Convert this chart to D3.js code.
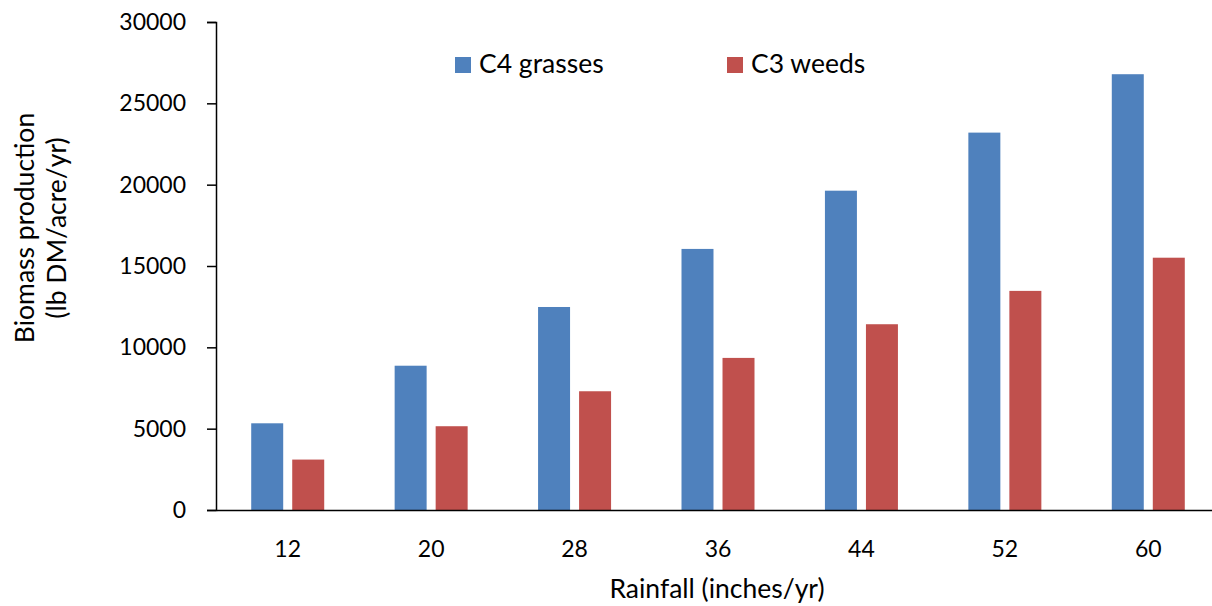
<!DOCTYPE html>
<html>
<head>
<meta charset="utf-8">
<script src="https://cdn.jsdelivr.net/npm/d3@7/dist/d3.min.js"></script>
<style>
  html, body { margin: 0; padding: 0; background: #fff; }
  svg { display: block; }
  text { font-family: Lato, "Open Sans", sans-serif; fill: #000; }
</style>
</head>
<body>
<svg id="chart" width="1212" height="606"></svg>
<script>
const categories = ["12", "20", "28", "36", "44", "52", "60"];
const seriesNames = ["C4 grasses", "C3 weeds"];
const c4Grasses = [5330, 8870, 12480, 16050, 19630, 23200, 26790];
const c3Weeds = [3100, 5150, 7300, 9350, 11420, 13470, 15510];
const yTicks = [0, 5000, 10000, 15000, 20000, 25000, 30000];
const colors = ["#4F81BD", "#C0504D"];

const svg = d3.select("#chart");
const plotLeft = 216, plotRight = 1220, plotTop = 22, plotBottom = 510;
const tickFont = 23, labelFont = 26.5;

const x = d3.scaleBand().domain(categories).range([plotLeft, plotRight]).paddingInner(0).paddingOuter(0);
const inner = d3.scaleBand().domain(seriesNames).range([x.bandwidth()/2 - 36.5, x.bandwidth()/2 + 36.5]).paddingInner(0.22);
const y = d3.scaleLinear().domain([0, 30000]).range([plotBottom, plotTop]);

const series = [c4Grasses, c3Weeds];

// bars
series.forEach((vals, si) => {
  svg.append("g").selectAll("rect")
    .data(vals)
    .join("rect")
    .attr("x", (d, i) => x(categories[i]) + inner(seriesNames[si]))
    .attr("width", inner.bandwidth())
    .attr("y", d => y(d))
    .attr("height", d => plotBottom - y(d))
    .attr("fill", colors[si]);
});

// y axis
const yAxis = svg.append("g").attr("transform", `translate(${plotLeft},0)`)
  .call(d3.axisLeft(y).tickValues(yTicks).tickSize(9).tickPadding(21).tickFormat(d3.format("d")));
yAxis.select(".domain").attr("stroke", "#000").attr("stroke-width", 1.5);
yAxis.selectAll(".tick line").attr("stroke", "#000").attr("stroke-width", 1.5);
yAxis.selectAll(".tick text").attr("font-size", tickFont).attr("font-family", "Lato, sans-serif").attr("fill", "#000");

// x axis
const xAxis = svg.append("g").attr("transform", `translate(0,${plotBottom})`)
  .call(d3.axisBottom(x).tickSize(0));
xAxis.select(".domain").attr("stroke", "#000").attr("stroke-width", 1.5);
xAxis.selectAll(".tick text").attr("font-size", tickFont).attr("font-family", "Lato, sans-serif")
  .attr("fill", "#000").attr("y", 47).attr("dy", 0);

// axis titles
svg.append("text")
  .attr("x", 717).attr("y", 598)
  .attr("text-anchor", "middle").attr("font-size", labelFont)
  .text("Rainfall (inches/yr)");

const yt = svg.append("text")
  .attr("transform", "translate(0,228) rotate(-90)")
  .attr("text-anchor", "middle").attr("font-size", labelFont);
yt.append("tspan").attr("x", 0).attr("y", 34).text("Biomass production");
yt.append("tspan").attr("x", 0).attr("y", 66).text("(lb DM/acre/yr)");

// legend
const legendX = [455, 727];
const lg = svg.append("g").selectAll("g").data(seriesNames).join("g")
  .attr("transform", (d, i) => `translate(${legendX[i]},57)`);
lg.append("rect").attr("width", 16).attr("height", 16).attr("fill", (d, i) => colors[i]);
lg.append("text").attr("x", 24).attr("y", 16).attr("font-size", labelFont).text(d => d);
</script>
</body>
</html>
